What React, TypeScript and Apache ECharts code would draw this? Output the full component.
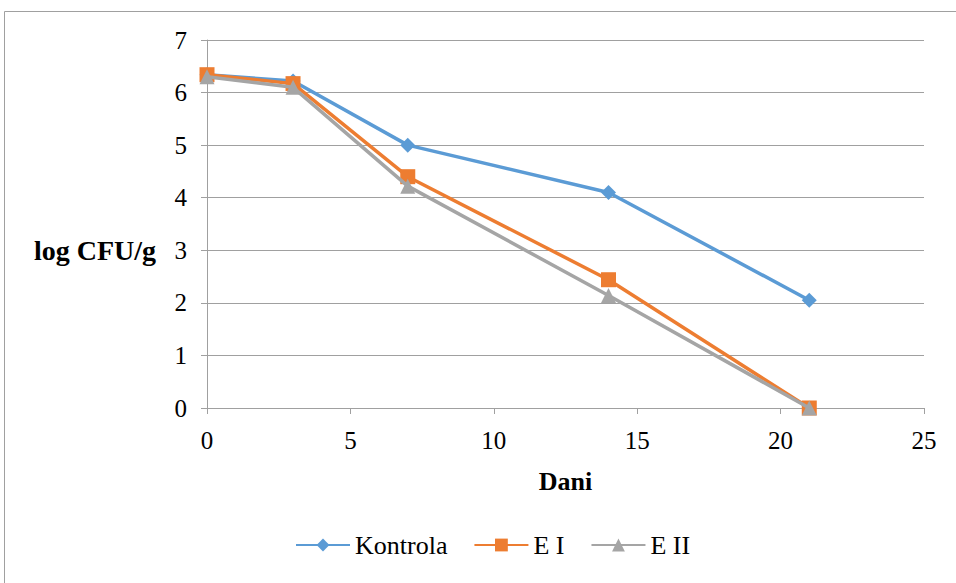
import React, { useEffect, useRef } from "react";
import * as echarts from "echarts";

// Days of sampling and log CFU/g counts per treatment
const days = [0, 3, 7, 14, 21];
const kontrola = [6.34, 6.22, 5.0, 4.1, 2.05];
const eI = [6.34, 6.17, 4.4, 2.44, 0];
const eII = [6.3, 6.1, 4.22, 2.14, 0];

const seriesNames = ["Kontrola", "E I", "E II"];
const colors = ["#5B9BD5", "#ED7D31", "#A5A5A5"];
const symbols = ["diamond", "rect", "triangle"];

const FONT = "Liberation Serif";

export default function App() {
  const ref = useRef<HTMLDivElement>(null);

  useEffect(() => {
    if (!ref.current) return;
    const chart = echarts.init(ref.current, undefined, { renderer: "svg" });
    const values = [kontrola, eI, eII];
    chart.setOption({
      animation: false,
      backgroundColor: "#ffffff",
      textStyle: { fontFamily: FONT },
      grid: { left: 207, right: 32, top: 40, bottom: 175 },
      graphic: [
        {
          type: "rect",
          shape: { x: 4.5, y: 11.5, width: 1000, height: 1000 },
          style: { fill: "none", stroke: "#a0a0a0", lineWidth: 1 },
          silent: true,
          z: -1,
        },
        {
          type: "text",
          x: 95,
          y: 250,
          style: {
            text: "log CFU/g",
            fontFamily: FONT,
            fontSize: 28,
            fontWeight: "bold",
            fill: "#000",
            align: "center",
            verticalAlign: "middle",
          },
        },
      ],
      legend: {
        bottom: 20,
        left: 290,
        itemWidth: 54,
        itemHeight: 16,
        itemGap: 26,
        textStyle: { fontFamily: FONT, fontSize: 26, color: "#000" },
        data: seriesNames,
      },
      xAxis: {
        type: "value",
        min: 0,
        max: 25,
        interval: 5,
        name: "Dani",
        nameLocation: "middle",
        nameGap: 60,
        nameTextStyle: { fontFamily: FONT, fontSize: 26, fontWeight: "bold", color: "#000" },
        axisLine: { show: true, lineStyle: { color: "#a0a0a0", width: 1 } },
        axisTick: { show: true, length: 6, lineStyle: { color: "#a0a0a0" } },
        axisLabel: { fontFamily: FONT, fontSize: 25, color: "#000", margin: 20 },
        splitLine: { show: false },
      },
      yAxis: {
        type: "value",
        min: 0,
        max: 7,
        interval: 1,
        axisLine: { show: true, lineStyle: { color: "#a0a0a0", width: 1 } },
        axisTick: { show: true, length: 6, lineStyle: { color: "#a0a0a0" } },
        axisLabel: { fontFamily: FONT, fontSize: 25, color: "#000", margin: 20 },
        splitLine: { show: true, lineStyle: { color: "#a0a0a0", width: 1 } },
      },
      series: seriesNames.map((name, i) => ({
        name,
        type: "line",
        data: days.map((d, j) => [d, values[i][j]]),
        symbol: symbols[i],
        symbolSize: 15,
        showAllSymbol: true,
        clip: false,
        color: colors[i],
        lineStyle: { color: colors[i], width: 3.5 },
        itemStyle: { color: colors[i] },
        z: 3 + i,
      })),
    });
    return () => chart.dispose();
  }, []);

  return (
    <div
      ref={ref}
      style={{ position: "fixed", left: 0, top: 0, width: 956, height: 583 }}
    />
  );
}
